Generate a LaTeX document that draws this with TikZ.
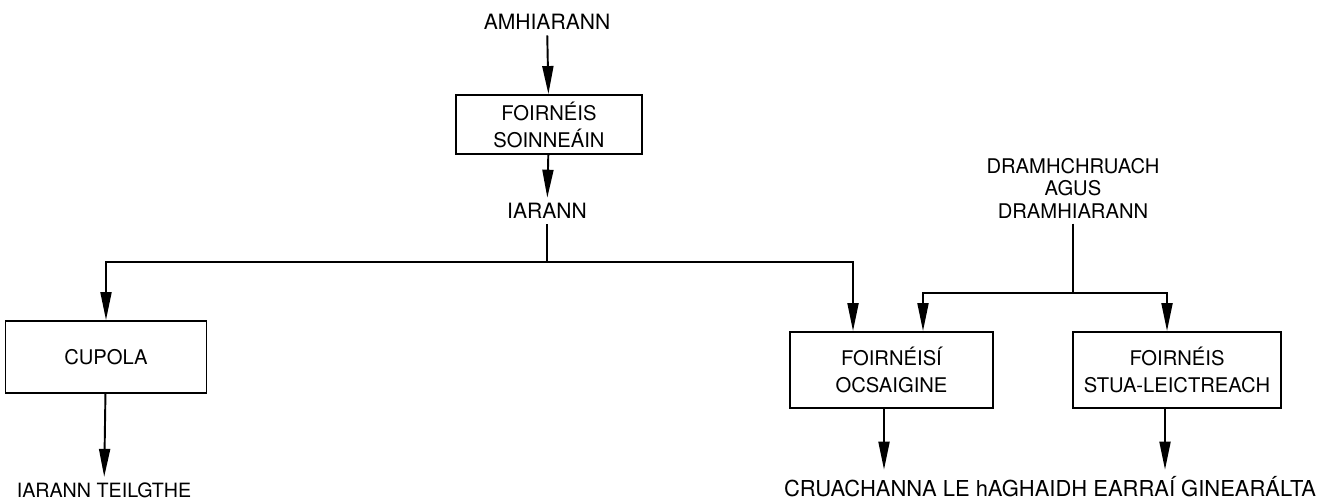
\documentclass[tikz,border=0pt]{standalone}
\usepackage{fontspec}
\setmainfont{TeX Gyre Heros}
\usetikzlibrary{arrows.meta, positioning, calc}

\begin{document}
\begin{tikzpicture}[x=0.02cm, y=-0.02cm,
    font=\fontsize{12}{12.8}\selectfont,
    furnace/.style={draw, line width=1.1pt, align=center, inner sep=0pt,
      font=\fontsize{11.5}{15.3}\selectfont},
    tag/.style={align=center, inner sep=3pt},
    link/.style={line width=1.1pt},
    flow/.style={line width=1.1pt, -{Triangle[length=0.56cm, width=0.22cm]}}]
    \useasboundingbox (0,0) rectangle (1324,501);

    % Furnaces
    \node[furnace, minimum width=3.72cm, minimum height=1.18cm] (soinn) at (549,124.5)
      {FOIRNÉIS\\SOINNEÁIN};
    \node[furnace, minimum width=4.02cm, minimum height=1.44cm] (cupola) at (106,357)
      {CUPOLA};
    \node[furnace, minimum width=4.06cm, minimum height=1.52cm] (ocs) at (891.5,370)
      {FOIRNÉISÍ\\OCSAIGINE};
    \node[furnace, minimum width=4.16cm, minimum height=1.52cm] (stua) at (1177,370)
      {FOIRNÉIS\\STUA-LEICTREACH};

    % Materials and products
    \node[tag] (amh) at (547,22) {AMHIARANN};
    \node[tag] (iarann) at (547,211) {IARANN};
    \node[tag, font=\fontsize{11.5}{12.8}\selectfont] (dramh) at (1073,188)
      {DRAMHCHRUACH\\AGUS\\DRAMHIARANN};
    \node[tag, font=\fontsize{11.2}{12}\selectfont] (teilg) at (104,490) {IARANN TEILGTHE};
    \node[tag, inner sep=1pt, font=\fontsize{12.5}{13.5}\selectfont] (cruach) at (1050,487)
      {CRUACHANNA LE hAGHAIDH EARRAÍ GINEARÁLTA};

    % Branch points
    \coordinate (split) at (547,262);
    \coordinate (merge) at (1073,293);
    \coordinate (ocsin) at ([xshift=-0.77cm]ocs.north);
    \coordinate (scrapin) at ([xshift=0.63cm]ocs.north);
    \coordinate (stuain) at ([xshift=-0.2cm]stua.north);
    \coordinate (ocsout) at ([xshift=-0.15cm]ocs.south);
    \coordinate (stuaout) at ([xshift=-0.24cm]stua.south);

    % Connectors
    \draw[flow] (amh) -- (soinn);
    \draw[flow] (soinn) -- (iarann);
    \draw[link] (iarann) -- (split);
    \draw[flow] (split) -| (cupola.north);
    \draw[flow] (split) -| (ocsin);
    \draw[link] (dramh) -- (merge);
    \draw[flow] (merge) -| (scrapin);
    \draw[flow] (merge) -| (stuain);
    \draw[flow] (cupola) -- (teilg);
    \draw[flow] (ocsout) -- ([yshift=0.1cm]ocsout |- cruach.north);
    \draw[flow] (stuaout) -- ([yshift=0.1cm]stuaout |- cruach.north);
\end{tikzpicture}
\end{document}
